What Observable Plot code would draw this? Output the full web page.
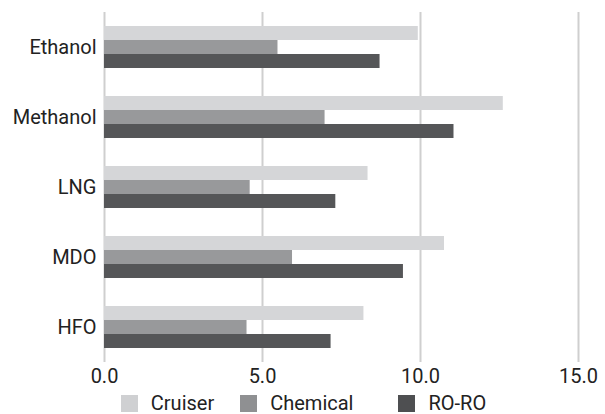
<!DOCTYPE html>
<html>
<head>
<meta charset="utf-8">
<script src="https://cdn.jsdelivr.net/npm/d3@7"></script>
<script src="https://cdn.jsdelivr.net/npm/@observablehq/plot@0.6"></script>
<style>
  html, body { margin: 0; padding: 0; background: #fff; }
  #chart { width: 605px; font-family: Roboto, "Noto Sans", sans-serif; }
  .legend { display: flex; justify-content: center; align-items: center; height: 22px; font-size: 20px; color: #222; padding-left: 2px; }
  .legend .item { display: flex; align-items: center; }
  .legend .sw { width: 17px; height: 17px; margin-right: 13px; }
</style>
</head>
<body>
<div id="chart"></div>
<script>
const fuels = ["Ethanol", "Methanol", "LNG", "MDO", "HFO"];
const shipTypes = ["Cruiser", "Chemical", "RO-RO"];
const cruiser  = [9.93, 12.62, 8.34, 10.76, 8.21];
const chemical = [5.49, 6.98, 4.61, 5.95, 4.51];
const roro     = [8.72, 11.06, 7.32, 9.46, 7.17];
const xTicks = [0, 5, 10, 15];
const colors = ["#d5d6d8", "#98999b", "#555658"];
const legendColors = ["#cfd0d2", "#8f9092", "#4e4f51"];

const series = [cruiser, chemical, roro];
const data = [];
fuels.forEach((f, i) => shipTypes.forEach((t, j) => data.push({fuel: f, type: t, value: series[j][i]})));

const plot = Plot.plot({
  width: 605,
  height: 392,
  marginLeft: 104,
  marginRight: 27,
  marginTop: 12,
  marginBottom: 30,
  style: {fontFamily: "Roboto, 'Noto Sans', sans-serif", fontSize: "20px", color: "#222"},
  x: {domain: [0, 15], axis: null},
  fy: {domain: fuels, padding: 0, label: null, axis: "left", tickSize: 0, tickPadding: 8},
  y: {domain: shipTypes, axis: null, paddingInner: 0, paddingOuter: 0.88},
  color: {domain: shipTypes, range: colors},
  marks: [
    Plot.ruleX(xTicks, {stroke: "#cfcfcf", strokeWidth: 2, strokeOpacity: 1}),
    Plot.barX(data, {fy: "fuel", y: "type", x: "value", fill: "type", insetTop: 0, insetBottom: 0}),
    Plot.axisX(xTicks, {anchor: "bottom", facetAnchor: "bottom", tickSize: 0, tickPadding: 6, tickFormat: d3.format(".1f"), label: null})
  ]
});

document.getElementById("chart").appendChild(plot);

const legend = document.createElement("div");
legend.className = "legend";
const gaps = [26, 45, 0];
shipTypes.forEach((t, i) => {
  const item = document.createElement("div");
  item.className = "item";
  item.style.marginRight = gaps[i] + "px";
  const sw = document.createElement("div");
  sw.className = "sw";
  sw.style.background = legendColors[i];
  const lab = document.createElement("span");
  lab.textContent = t;
  item.appendChild(sw);
  item.appendChild(lab);
  legend.appendChild(item);
});
document.getElementById("chart").appendChild(legend);
</script>
</body>
</html>
